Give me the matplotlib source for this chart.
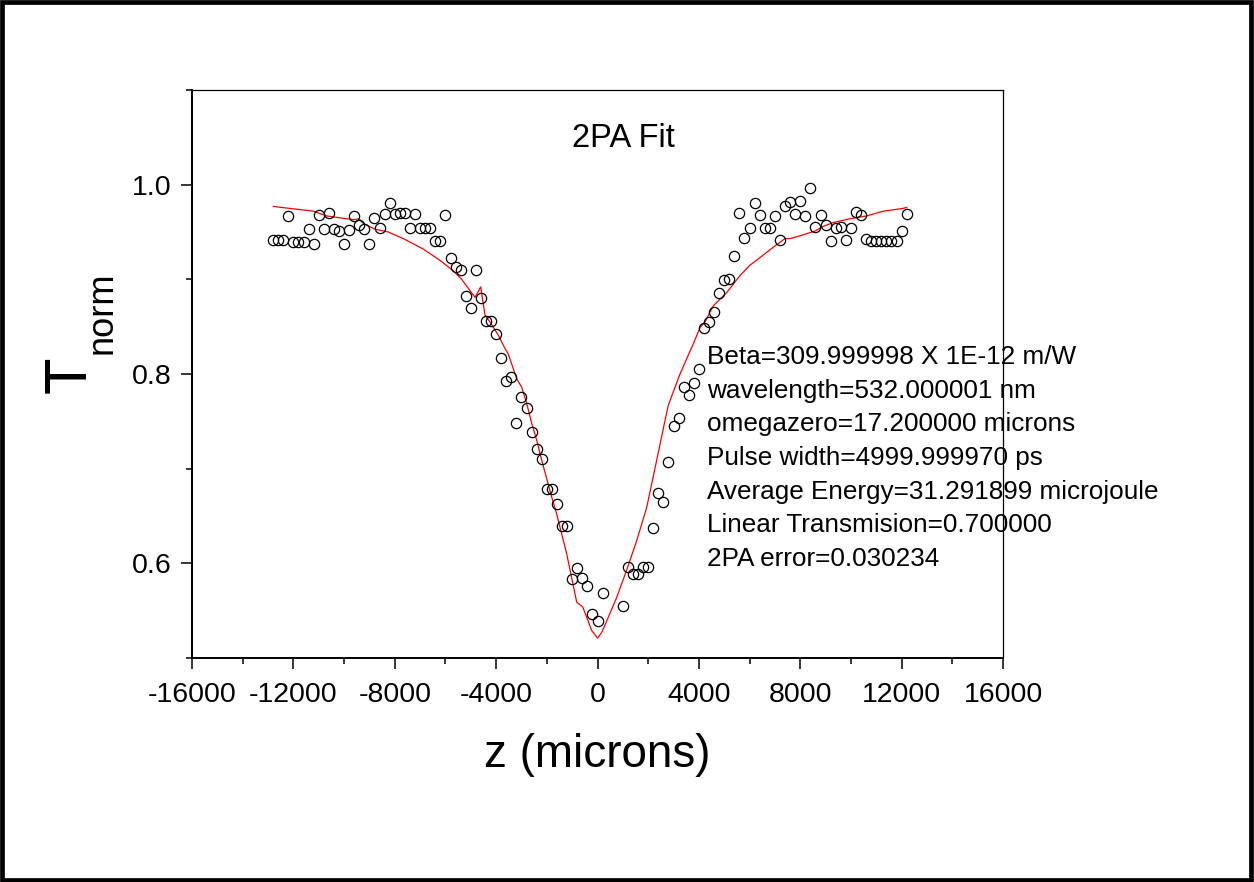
import matplotlib
matplotlib.use("Agg")
import matplotlib.pyplot as plt
from matplotlib.patches import Rectangle
from matplotlib.ticker import MultipleLocator, FixedLocator

plt.rcParams['font.family'] = ['Liberation Sans', 'DejaVu Sans']

# ---- data ----
z_data = [-12800, -12600, -12400, -12200, -12000, -11800, -11600, -11400, -11200, -11000,
          -10800, -10600, -10400, -10200, -10000, -9800, -9600, -9400, -9200, -9000,
          -8800, -8600, -8400, -8200, -8000, -7800, -7600, -7400, -7200, -7000,
          -6800, -6600, -6400, -6200, -6000, -5800, -5600, -5400, -5200, -5000,
          -4800, -4600, -4400, -4200, -4000, -3800, -3600, -3400, -3200, -3000,
          -2800, -2600, -2400, -2200, -2000, -1800, -1600, -1400, -1200, -1000,
          -800, -600, -400, -200, 0, 200,
          1000, 1200, 1400, 1600, 1800, 2000, 2200, 2400, 2600, 2800,
          3000, 3200, 3400, 3600, 3800, 4000, 4200, 4400, 4600, 4800,
          5000, 5200, 5400, 5600, 5800, 6000, 6200, 6400, 6600, 6800,
          7000, 7200, 7400, 7600, 7800, 8000, 8200, 8400, 8600, 8800,
          9000, 9200, 9400, 9600, 9800, 10000, 10200, 10400, 10600, 10800,
          11000, 11200, 11400, 11600, 11800, 12000, 12200]
t_data = [0.942, 0.942, 0.942, 0.967, 0.939, 0.939, 0.939, 0.953, 0.937, 0.968,
          0.953, 0.970, 0.953, 0.951, 0.937, 0.952, 0.967, 0.957, 0.953, 0.937,
          0.965, 0.954, 0.969, 0.981, 0.969, 0.970, 0.970, 0.954, 0.969, 0.954,
          0.954, 0.954, 0.940, 0.940, 0.968, 0.923, 0.913, 0.910, 0.882, 0.870,
          0.910, 0.880, 0.856, 0.856, 0.842, 0.817, 0.793, 0.797, 0.748, 0.776,
          0.764, 0.739, 0.721, 0.710, 0.678, 0.678, 0.663, 0.639, 0.639, 0.583,
          0.595, 0.585, 0.576, 0.547, 0.539, 0.569,
          0.555, 0.596, 0.589, 0.589, 0.596, 0.596, 0.637, 0.674, 0.665, 0.707,
          0.745, 0.754, 0.786, 0.778, 0.790, 0.805, 0.849, 0.855, 0.865, 0.886,
          0.899, 0.900, 0.925, 0.970, 0.944, 0.954, 0.981, 0.968, 0.954, 0.954,
          0.967, 0.942, 0.977, 0.982, 0.969, 0.983, 0.967, 0.997, 0.955, 0.968,
          0.957, 0.940, 0.954, 0.955, 0.942, 0.954, 0.971, 0.968, 0.943, 0.940,
          0.940, 0.940, 0.940, 0.940, 0.940, 0.951, 0.969]

z_fit = [-12790, -11215, -10686, -9636, -9411, -9242, -8780, -8255, -7663, -6874,
         -6215, -5690, -5359, -4834, -4609, -4439, -4242, -3914, -3650, -3520,
         -3188, -2991, -2794, -2597, -2399, -2202, -1807, -1610, -1413, -1215,
         -821, -584, -229, 0, 166, 426, 758, 1152, 1547, 1941,
         2336, 2664, 2794, 3255, 3780, 4045, 4242, 4569, 5098, 5623,
         6018, 6412, 6937, 7398, 7596, 7990, 8582, 8910, 9305, 9962,
         10623, 11278, 12067, 12200]
t_fit = [0.977, 0.972, 0.967, 0.963, 0.964, 0.959, 0.953, 0.950, 0.943, 0.932,
         0.920, 0.909, 0.900, 0.881, 0.892, 0.862, 0.855, 0.841, 0.827, 0.821,
         0.795, 0.786, 0.769, 0.748, 0.730, 0.709, 0.670, 0.652, 0.631, 0.610,
         0.559, 0.554, 0.529, 0.521, 0.527, 0.543, 0.564, 0.593, 0.624, 0.659,
         0.709, 0.751, 0.767, 0.800, 0.832, 0.849, 0.855, 0.872, 0.886, 0.904,
         0.915, 0.923, 0.934, 0.943, 0.943, 0.946, 0.951, 0.956, 0.960, 0.964,
         0.967, 0.972, 0.975, 0.976]

x_ticks = [-16000, -12000, -8000, -4000, 0, 4000, 8000, 12000, 16000]
y_ticks = [0.6, 0.8, 1.0]
y_ticklabels = ["0.6", "0.8", "1.0"]

title_text = "2PA Fit"
info_lines = ["Beta=309.999998 X 1E-12 m/W",
              "wavelength=532.000001 nm",
              "omegazero=17.200000 microns",
              "Pulse width=4999.999970 ps",
              "Average Energy=31.291899 microjoule",
              "Linear Transmision=0.700000",
              "2PA error=0.030234"]
x_label = "z (microns)"

# ---- figure ----
W, H = 1254, 882
fig = plt.figure(figsize=(W / 100, H / 100), dpi=100)

def fx(px):
    return px / W

def fy(py):
    return 1 - py / H

ax = fig.add_axes([fx(192), fy(658), fx(1003) - fx(192), fy(90) - fy(658)])

ax.plot(z_fit, t_fit, color='#ff0000', lw=0.9, zorder=2)
ax.plot(z_data, t_data, linestyle='none', marker='o', markersize=7.4,
        markerfacecolor='none', markeredgecolor='black', markeredgewidth=0.9, zorder=3)

ax.set_xlim(-16000, 16000)
ax.set_ylim(0.5, 1.1)
ax.set_xticks(x_ticks)
ax.set_xticklabels([str(v) for v in x_ticks])
ax.xaxis.set_minor_locator(MultipleLocator(2000))
ax.set_yticks(y_ticks)
ax.set_yticklabels(y_ticklabels)
ax.yaxis.set_minor_locator(FixedLocator([0.5, 0.7, 0.9, 1.1]))

ax.tick_params(which='major', direction='out', length=8, width=1.1, labelsize=20.5, pad=7)
ax.tick_params(axis='x', which='major', pad=9)
ax.tick_params(which='minor', direction='out', length=4.5, width=1.1)
ax.tick_params(top=False, right=False, which='both')
for s in ['left', 'bottom']:
    ax.spines[s].set_linewidth(1.4)
for s in ['top', 'right']:
    ax.spines[s].set_linewidth(0.9)

# labels
fig.text(fx(597.5), fy(767), x_label, fontsize=33, ha='center', va='baseline')
fig.text(fx(86), fy(374.5), "T", fontsize=43, rotation=90, rotation_mode='anchor',
         ha='center', va='baseline')
fig.text(fx(111.5), fy(354), "norm", fontsize=26, rotation=90, rotation_mode='anchor',
         ha='left', va='baseline')

# in-plot text
fig.text(fx(623), fy(147.3), title_text, fontsize=23.5, ha='center', va='baseline')
for i, line in enumerate(info_lines):
    fig.text(fx(707), fy(364 + 33.7 * i), line, fontsize=18.8, ha='left', va='baseline')

# outer frame
fig.patches.append(Rectangle((fx(2), fy(880)), fx(1251) - fx(2), fy(2) - fy(880),
                             transform=fig.transFigure, fill=False,
                             edgecolor='black', linewidth=3.4))

fig.savefig("out.png", dpi=100)
